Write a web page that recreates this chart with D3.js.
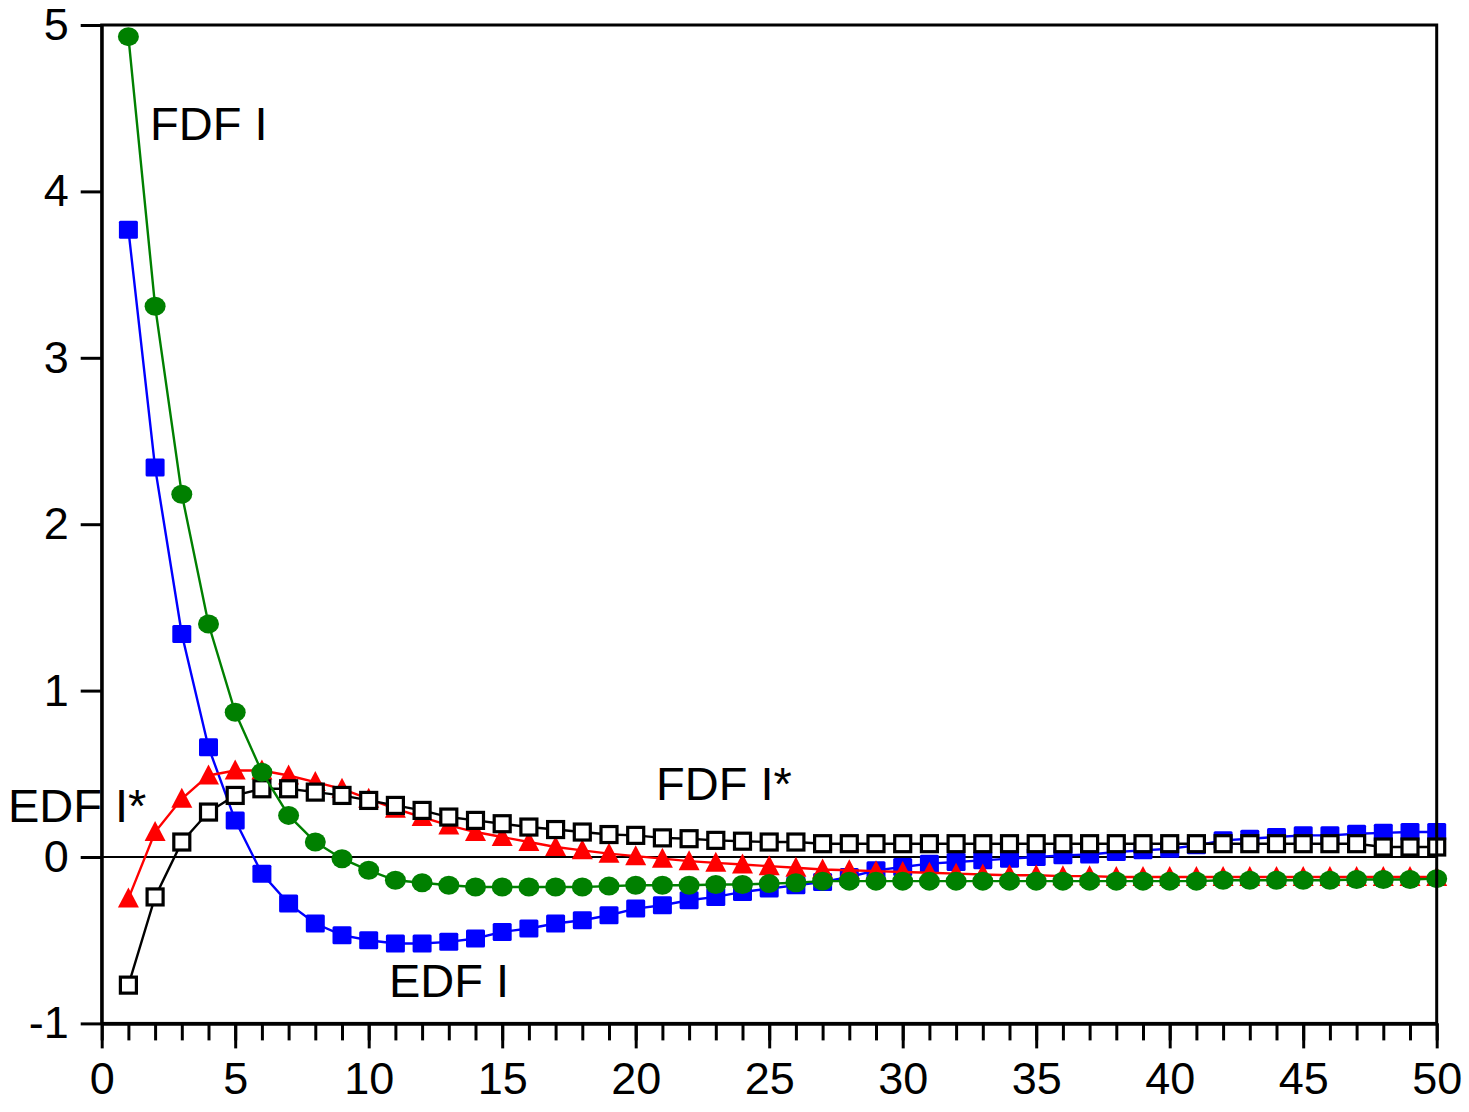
<!DOCTYPE html>
<html>
<head>
<meta charset="utf-8">
<script src="https://cdn.jsdelivr.net/npm/d3@7"></script>
<style>
  html, body { margin: 0; padding: 0; background: #fff; }
  svg { display: block; }
  text { font-family: "Liberation Sans", Arial, sans-serif; }
</style>
</head>
<body>
<svg id="chart" width="1469" height="1112"></svg>
<script>
// horizon 1..50
const horizons = d3.range(1, 51);

// FDF I (green circles)
const fdfI = [
  4.93, 3.31, 2.18, 1.40, 0.87, 0.51, 0.25, 0.09, -0.01, -0.08,
  -0.14, -0.155, -0.17, -0.18, -0.18, -0.18, -0.18, -0.18, -0.175, -0.17,
  -0.17, -0.17, -0.165, -0.165, -0.16, -0.155, -0.145, -0.145, -0.145, -0.145,
  -0.145, -0.145, -0.145, -0.145, -0.145, -0.145, -0.145, -0.145, -0.145, -0.145,
  -0.145, -0.14, -0.14, -0.14, -0.14, -0.14, -0.135, -0.135, -0.135, -0.13
];

// EDF I (blue filled squares)
const edfI = [
  3.77, 2.34, 1.34, 0.66, 0.22, -0.10, -0.28, -0.40, -0.47, -0.50,
  -0.52, -0.52, -0.51, -0.49, -0.45, -0.43, -0.40, -0.38, -0.35, -0.31,
  -0.29, -0.26, -0.24, -0.21, -0.19, -0.17, -0.15, -0.12, -0.08, -0.06,
  -0.04, -0.03, -0.02, -0.01, 0.00, 0.01, 0.015, 0.03, 0.04, 0.05,
  0.07, 0.10, 0.11, 0.12, 0.13, 0.13, 0.14, 0.145, 0.15, 0.15
];

// EDF I* (red triangles)
const edfIStar = [
  -0.25, 0.15, 0.35, 0.49, 0.52, 0.52, 0.49, 0.45, 0.41, 0.35,
  0.29, 0.24, 0.19, 0.15, 0.12, 0.09, 0.06, 0.04, 0.02, 0.005,
  -0.01, -0.025, -0.035, -0.045, -0.055, -0.065, -0.075, -0.08, -0.085, -0.09,
  -0.095, -0.10, -0.105, -0.11, -0.11, -0.115, -0.115, -0.12, -0.12, -0.12,
  -0.12, -0.12, -0.12, -0.12, -0.12, -0.12, -0.12, -0.12, -0.12, -0.12
];

// FDF I* (black open squares)
const fdfIStar = [
  -0.77, -0.24, 0.09, 0.27, 0.37, 0.41, 0.41, 0.39, 0.37, 0.34,
  0.31, 0.28, 0.24, 0.22, 0.20, 0.18, 0.165, 0.15, 0.135, 0.13,
  0.115, 0.11, 0.10, 0.095, 0.09, 0.09, 0.08, 0.08, 0.08, 0.08,
  0.08, 0.08, 0.08, 0.08, 0.08, 0.08, 0.08, 0.08, 0.08, 0.08,
  0.08, 0.08, 0.08, 0.08, 0.08, 0.08, 0.08, 0.06, 0.06, 0.06
];

const xTicks = d3.range(0, 51, 5);
const xMinorTicks = d3.range(0, 51, 1);
const yTicks = [-1, 0, 1, 2, 3, 4, 5];

const svg = d3.select('#chart');
const plotLeft = 101.7, plotRight = 1436.7, plotTop = 25, plotBottom = 1023.4;

const x = d3.scaleLinear().domain([0, 50]).range([plotLeft, plotRight]);
const y = d3.scaleLinear().domain([-1, 5]).range([plotBottom, plotTop]);

// zero line
svg.append('line')
  .attr('x1', x(0)).attr('x2', x(50))
  .attr('y1', y(0)).attr('y2', y(0))
  .attr('stroke', '#000').attr('stroke-width', 2.2);

const line = d3.line().x((d, i) => x(horizons[i])).y(d => y(d));

function drawSeries(values, color, marker) {
  const g = svg.append('g');
  g.append('path')
    .attr('d', line(values))
    .attr('fill', 'none')
    .attr('stroke', color)
    .attr('stroke-width', 2.4);
  const pts = g.selectAll('.pt').data(values).join('g')
    .attr('transform', (d, i) => `translate(${x(horizons[i])},${y(d)})`);
  if (marker === 'square') {
    pts.append('rect').attr('x', -9.5).attr('y', -9).attr('width', 19).attr('height', 18)
      .attr('rx', 1.5).attr('fill', color);
  } else if (marker === 'open') {
    pts.append('rect').attr('x', -8).attr('y', -8).attr('width', 16).attr('height', 16)
      .attr('fill', '#fff').attr('stroke', color).attr('stroke-width', 3.2);
  } else if (marker === 'triangle') {
    pts.append('path').attr('d', 'M0,-11 L10.5,9 L-10.5,9 Z').attr('fill', color);
  } else {
    pts.append('ellipse').attr('rx', 10.5).attr('ry', 9.5).attr('fill', color);
  }
}

drawSeries(edfI, '#0000ff', 'square');
drawSeries(edfIStar, '#ff0000', 'triangle');
drawSeries(fdfIStar, '#000000', 'open');
drawSeries(fdfI, '#008000', 'circle');

// labels
const labelFont = 47;
svg.append('text').attr('x', 150).attr('y', 140).attr('font-size', labelFont).text('FDF I');
svg.append('text').attr('x', 656).attr('y', 800).attr('font-size', labelFont).text('FDF I*');
svg.append('text').attr('x', 389).attr('y', 997).attr('font-size', labelFont).text('EDF I');
svg.append('text').attr('x', 8).attr('y', 822).attr('font-size', labelFont).text('EDF I*');

// frame
svg.append('rect')
  .attr('x', plotLeft).attr('y', plotTop)
  .attr('width', plotRight - plotLeft).attr('height', plotBottom - plotTop)
  .attr('fill', 'none').attr('stroke', '#000').attr('stroke-width', 3);

// axes
const yAxis = d3.axisLeft(y).tickValues(yTicks).tickSize(21).tickSizeOuter(0).tickPadding(12)
  .tickFormat(d => String(d));
const gy = svg.append('g').attr('transform', `translate(${plotLeft},0)`).call(yAxis);

const xMinor = d3.axisBottom(x).tickValues(xMinorTicks).tickSize(17).tickSizeOuter(0).tickFormat('');
const gxm = svg.append('g').attr('transform', `translate(0,${plotBottom})`).call(xMinor);

const xAxis = d3.axisBottom(x).tickValues(xTicks).tickSize(25).tickSizeOuter(0).tickPadding(14)
  .tickFormat(d => String(d));
const gx = svg.append('g').attr('transform', `translate(0,${plotBottom})`).call(xAxis);

[gy, gx, gxm].forEach(g => {
  g.select('.domain').attr('stroke', '#000').attr('stroke-width', 3);
  g.selectAll('.tick line').attr('stroke', '#000').attr('stroke-width', 3);
  g.selectAll('.tick text')
    .attr('fill', '#000')
    .attr('font-size', 45)
    .attr('font-family', '"Liberation Sans", Arial, sans-serif');
});
</script>
</body>
</html>
